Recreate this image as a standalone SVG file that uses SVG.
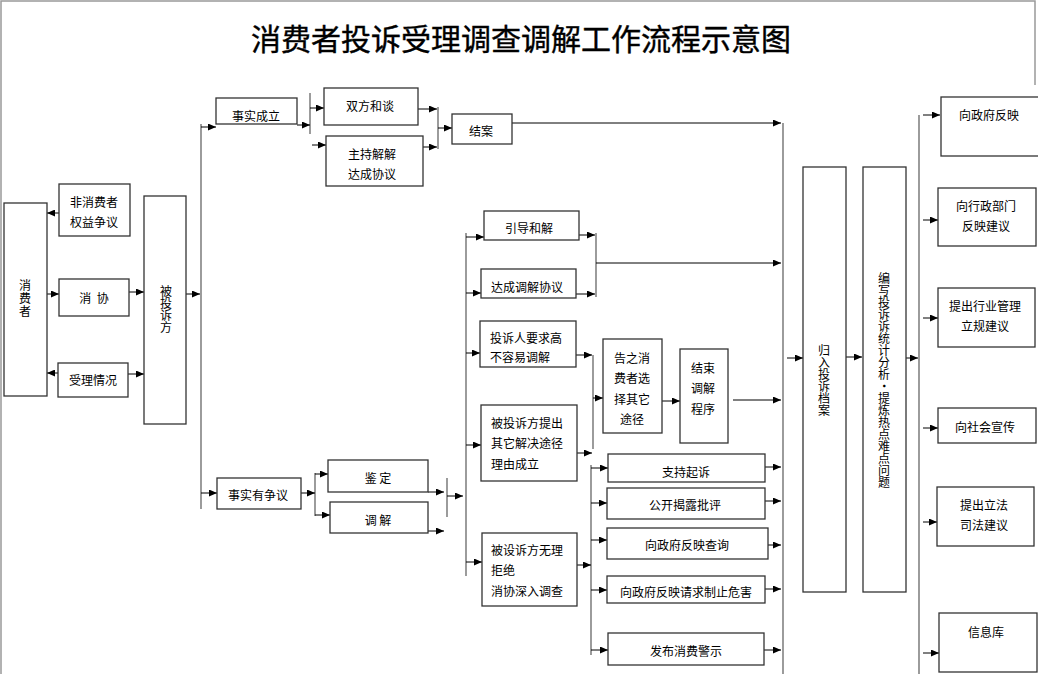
<svg xmlns="http://www.w3.org/2000/svg" width="1038" height="674" viewBox="0 0 1038 674">
<style>
.box{fill:#fff;stroke:#333;stroke-width:1.3}
.t{font-family:"Noto Sans CJK SC","Noto Sans CJK JP",sans-serif;font-size:12px;fill:#000;text-anchor:middle;dominant-baseline:central}
.v{writing-mode:vertical-rl;text-anchor:middle}
.tl{text-anchor:start}
.c{stroke:#000;stroke-width:1;fill:none;marker-end:url(#ah)}
.bus{stroke:#666;stroke-width:1.3;fill:none}
.frame{stroke:#999;stroke-width:1.5;fill:none}
</style>
<defs>
<marker id="ah" markerWidth="8" markerHeight="7" refX="8" refY="3.5" orient="auto" markerUnits="userSpaceOnUse"><path d="M0,0 L8,3.5 L0,7 z" fill="#000"/></marker>
</defs>
<rect width="1038" height="674" fill="#fff"/>
<path class="frame" d="M1,674 V1 H1035 V85"/>
<text x="521" y="37" font-family="Noto Sans CJK SC, sans-serif" font-size="30" font-weight="normal" text-anchor="middle" dominant-baseline="central" stroke="#000" stroke-width="0.4">消费者投诉受理调查调解工作流程示意图</text>

<g id="connectors">
<path class="bus" d="M201,124 V509"/>
<path class="bus" d="M310,93 V134"/>
<path class="bus" d="M438,107 V149"/>
<path class="bus" d="M783,123 V674"/>
<path class="bus" d="M466,233 V576"/>
<path class="bus" d="M596,233 V297"/>
<path class="bus" d="M593,355 V449"/>
<path class="bus" d="M591,465 V655"/>
<path class="bus" d="M315,473 V516"/>
<path class="bus" d="M447,478 V517"/>
<path class="bus" d="M919,115 V674"/>
<path class="c" d="M59,213 H47"/>
<path class="c" d="M47,294 H59"/>
<path class="c" d="M129,292 H144"/>
<path class="c" d="M58,373 H47"/>
<path class="c" d="M128,374 H144"/>
<path class="c" d="M186,294 H200"/>
<path class="c" d="M201,127 H216"/>
<path class="c" d="M297,125 H310"/>
<path class="c" d="M310,108 H324"/>
<path class="c" d="M312,145 H326"/>
<path class="c" d="M418,109 H437"/>
<path class="c" d="M423,147 H437"/>
<path class="c" d="M438,128 H452"/>
<path class="c" d="M512,123 H781"/>
<path class="c" d="M466,237 H484"/>
<path class="c" d="M466,293 H481"/>
<path class="c" d="M579,235 H595"/>
<path class="c" d="M576,294 H595"/>
<path class="c" d="M596,263 H781"/>
<path class="c" d="M466,353 H480"/>
<path class="c" d="M576,355 H592"/>
<path class="c" d="M593,398 H603"/>
<path class="c" d="M662,401 H680"/>
<path class="c" d="M733,400 H781"/>
<path class="c" d="M787,358 H803"/>
<path class="c" d="M466,445 H481"/>
<path class="c" d="M577,453 H592"/>
<path class="c" d="M466,562 H482"/>
<path class="c" d="M577,565 H591"/>
<path class="c" d="M591,468 H608"/>
<path class="c" d="M591,503 H607"/>
<path class="c" d="M591,540 H607"/>
<path class="c" d="M591,590 H607"/>
<path class="c" d="M591,650 H608"/>
<path class="c" d="M765,467 H781"/>
<path class="c" d="M765,501 H781"/>
<path class="c" d="M768,545 H781"/>
<path class="c" d="M765,589 H781"/>
<path class="c" d="M764,650 H781"/>
<path class="c" d="M201,493 H217"/>
<path class="c" d="M301,493 H315"/>
<path class="c" d="M315,474 H328"/>
<path class="c" d="M315,515 H330"/>
<path class="c" d="M428,492 H444"/>
<path class="c" d="M428,531 H444"/>
<path class="c" d="M447,496 H463"/>
<path class="c" d="M846,357 H862"/>
<path class="c" d="M906,358 H918"/>
<path class="c" d="M923,115 H940"/>
<path class="c" d="M923,220 H938"/>
<path class="c" d="M923,318 H938"/>
<path class="c" d="M923,428 H938"/>
<path class="c" d="M923,522 H937"/>
<path class="c" d="M923,653 H939"/>
</g>

<g id="n-consumer"><rect class="box" x="4" y="203" width="43" height="193"/><text class="t v" x="25" y="299" letter-spacing="1">消费者</text></g>
<g id="n-nonconsumer"><rect class="box" x="59" y="184" width="71" height="52"/><text class="t" x="94" y="201">非消费者</text><text class="t" x="94" y="221">权益争议</text></g>
<g id="n-xiexie"><rect class="box" x="59" y="279" width="70" height="37"/><text class="t" x="94" y="297" style="white-space:pre">消  协</text></g>
<g id="n-shouli"><rect class="box" x="58" y="363" width="70" height="34"/><text class="t" x="93" y="379">受理情况</text></g>
<g id="n-beitousu"><rect class="box" x="144" y="196" width="42" height="228"/><text class="t v" x="166" y="309">被投诉方</text></g>
<g id="n-shishichengli"><rect class="box" x="216" y="98" width="81" height="26"/><text class="t" x="256" y="115">事实成立</text></g>
<g id="n-shuangfang"><rect class="box" x="324" y="88" width="94" height="37"/><text class="t" x="370" y="105">双方和谈</text></g>
<g id="n-zhuchi"><rect class="box" x="326" y="136" width="97" height="50"/><text class="t" x="372" y="153">主持解解</text><text class="t" x="372" y="173">达成协议</text></g>
<g id="n-jiean"><rect class="box" x="452" y="114" width="60" height="30"/><text class="t" x="481" y="130">结案</text></g>
<g id="n-yindao"><rect class="box" x="484" y="211" width="95" height="29"/><text class="t" x="529" y="227">引导和解</text></g>
<g id="n-dacheng"><rect class="box" x="481" y="269" width="95" height="29"/><text class="t" x="527" y="286">达成调解协议</text></g>
<g id="n-yaoqiugao"><rect class="box" x="480" y="321" width="96" height="46"/><text class="t tl" x="490" y="337">投诉人要求高</text><text class="t tl" x="490" y="356">不容易调解</text></g>
<g id="n-gaozhi"><rect class="box" x="603" y="339" width="59" height="94"/><text class="t" x="632" y="357">告之消</text><text class="t" x="632" y="377">费者选</text><text class="t" x="632" y="398">择其它</text><text class="t" x="632" y="418">途径</text></g>
<g id="n-jieshu"><rect class="box" x="680" y="349" width="48" height="94"/><text class="t" x="703" y="367">结束</text><text class="t" x="703" y="387">调解</text><text class="t" x="703" y="408">程序</text></g>
<g id="n-tichu"><rect class="box" x="481" y="405" width="96" height="76"/><text class="t tl" x="491" y="422">被投诉方提出</text><text class="t tl" x="491" y="442">其它解决途径</text><text class="t tl" x="491" y="463">理由成立</text></g>
<g id="n-zhengyi"><rect class="box" x="217" y="478" width="84" height="31"/><text class="t" x="258" y="494">事实有争议</text></g>
<g id="n-jianding"><rect class="box" x="328" y="460" width="100" height="32"/><text class="t" x="378" y="477" style="white-space:pre">鉴 定</text></g>
<g id="n-tiaojie"><rect class="box" x="330" y="502" width="98" height="31"/><text class="t" x="378" y="519" style="white-space:pre">调 解</text></g>
<g id="n-zhichi"><rect class="box" x="608" y="454" width="157" height="28"/><text class="t" x="686" y="471">支持起诉</text></g>
<g id="n-gongkai"><rect class="box" x="607" y="488" width="158" height="31"/><text class="t" x="685" y="504">公开揭露批评</text></g>
<g id="n-chaxun"><rect class="box" x="607" y="528" width="161" height="31"/><text class="t" x="687" y="544">向政府反映查询</text></g>
<g id="n-weihai"><rect class="box" x="607" y="576" width="158" height="27"/><text class="t" x="686" y="591">向政府反映请求制止危害</text></g>
<g id="n-jingshi"><rect class="box" x="608" y="633" width="156" height="32"/><text class="t" x="686" y="650">发布消费警示</text></g>
<g id="n-wuli"><rect class="box" x="482" y="533" width="95" height="73"/><text class="t tl" x="491" y="549">被设诉方无理</text><text class="t tl" x="491" y="569">拒绝</text><text class="t tl" x="491" y="590">消协深入调查</text></g>
<g id="n-guiru"><rect class="box" x="803" y="167" width="43" height="425"/><text class="t v" x="824" y="380">归入投诉档案</text></g>
<g id="n-bianxie"><rect class="box" x="863" y="167" width="43" height="425"/><text class="t v" x="884" y="380">编写投诉诉统计分析·提炼热点难点问题</text></g>
<g id="n-zhengfu"><rect class="box" x="941" y="97" width="100" height="59"/><text class="t" x="989" y="114">向政府反映</text></g>
<g id="n-xingzheng"><rect class="box" x="938" y="188" width="98" height="58"/><text class="t" x="986" y="205">向行政部门</text><text class="t" x="986" y="225">反映建议</text></g>
<g id="n-hangye"><rect class="box" x="938" y="288" width="97" height="59"/><text class="t" x="985" y="305">提出行业管理</text><text class="t" x="985" y="325">立规建议</text></g>
<g id="n-shehui"><rect class="box" x="938" y="408" width="98" height="35"/><text class="t" x="985" y="426">向社会宣传</text></g>
<g id="n-lifa"><rect class="box" x="937" y="487" width="97" height="59"/><text class="t" x="984" y="504">提出立法</text><text class="t" x="984" y="524">司法建议</text></g>
<g id="n-xinxi"><rect class="box" x="939" y="613" width="98" height="59"/><text class="t" x="986" y="631">信息库</text></g>
</svg>
